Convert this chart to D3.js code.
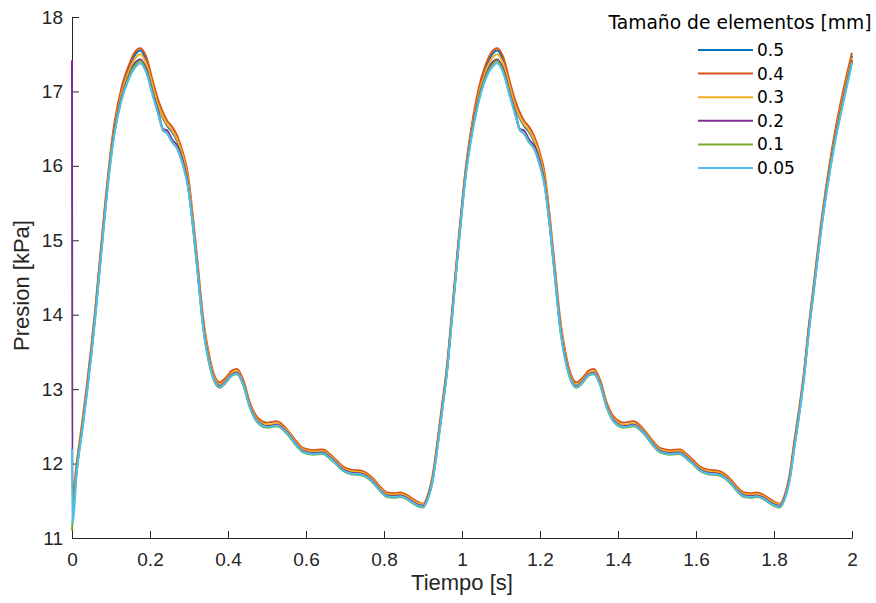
<!DOCTYPE html>
<html>
<head>
<meta charset="utf-8">
<script src="https://cdn.jsdelivr.net/npm/d3@7"></script>
<style>
  html, body { margin: 0; padding: 0; background: #ffffff; }
  svg { display: block; }
</style>
</head>
<body>
<svg id="chart" width="876" height="603"></svg>
<script>
// ---------- DATA ----------
const TIME = [0, 0.001, 0.013, 0.026, 0.038, 0.049, 0.059, 0.068, 0.077, 0.086, 0.096, 0.108, 0.127, 0.145,
  0.16, 0.175, 0.19, 0.208, 0.222, 0.233, 0.245, 0.256, 0.27, 0.285, 0.297,
  0.31, 0.323, 0.336, 0.354, 0.367, 0.379, 0.392, 0.41, 0.423, 0.44, 0.456, 0.47, 0.482, 0.5, 0.525, 0.551, 0.575, 0.592, 0.618, 0.644, 0.66, 0.679, 0.695, 0.713, 0.744, 0.772, 0.79, 0.808, 0.825, 0.841, 0.855, 0.867, 0.885, 0.9,
  0.912, 0.926, 0.936, 0.949, 0.962, 0.974, 0.99, 1.01, 1.025, 1.041, 1.06,
  1.075, 1.09, 1.105, 1.123, 1.137, 1.148, 1.16, 1.171, 1.185, 1.2, 1.212,
  1.225, 1.238, 1.251, 1.269, 1.282, 1.294, 1.307, 1.325, 1.338, 1.355, 1.371, 1.385, 1.397, 1.415, 1.44, 1.466, 1.49, 1.507, 1.533, 1.559, 1.575, 1.594, 1.61, 1.628, 1.659, 1.687, 1.705, 1.723, 1.74, 1.756, 1.77, 1.782, 1.8, 1.815,
  1.827, 1.841, 1.851, 1.864, 1.877, 1.889, 1.905, 1.92, 1.936, 1.956, 1.977, 2.0];

const P_05 = [11.45, 11.45, 12.0, 12.5, 13.0, 13.5, 14.0, 14.5, 15.0, 15.5, 16.0, 16.5, 17.0, 17.3,
  17.48, 17.55, 17.42, 17.06, 16.8, 16.64, 16.53, 16.46, 16.33, 16.1, 15.82,
  15.25, 14.58, 13.9, 13.35, 13.12, 13.05, 13.1, 13.21, 13.23, 13.07, 12.78, 12.62, 12.55, 12.51, 12.53, 12.43, 12.27, 12.18, 12.15, 12.16, 12.1, 12.01, 11.93, 11.89, 11.87, 11.77, 11.66, 11.58, 11.57, 11.58, 11.56, 11.52, 11.46, 11.44,
  11.55, 11.85, 12.22, 12.75, 13.3, 13.98, 14.9, 15.95, 16.5, 16.95, 17.3,
  17.48, 17.55, 17.42, 17.06, 16.8, 16.64, 16.53, 16.46, 16.33, 16.1, 15.82,
  15.25, 14.58, 13.9, 13.35, 13.12, 13.05, 13.1, 13.21, 13.23, 13.07, 12.78, 12.62, 12.55, 12.51, 12.53, 12.43, 12.27, 12.18, 12.15, 12.16, 12.1, 12.01, 11.93, 11.89, 11.87, 11.77, 11.66, 11.58, 11.57, 11.58, 11.56, 11.52, 11.46, 11.44,
  11.55, 11.85, 12.22, 12.68, 13.2, 13.8, 14.5, 15.15, 15.75, 16.4, 16.95, 17.48];

const P_04 = [11.6, 11.6, 12.05, 12.55, 13.05, 13.55, 14.05, 14.55, 15.05, 15.55, 16.05, 16.55, 17.05, 17.34,
  17.52, 17.58, 17.47, 17.12, 16.87, 16.72, 16.6, 16.53, 16.4, 16.17, 15.9,
  15.32, 14.65, 13.97, 13.4, 13.16, 13.09, 13.14, 13.25, 13.27, 13.11, 12.82, 12.66, 12.59, 12.55, 12.57, 12.46, 12.3, 12.21, 12.18, 12.19, 12.13, 12.04, 11.96, 11.92, 11.9, 11.8, 11.69, 11.61, 11.6, 11.61, 11.59, 11.55, 11.49, 11.46,
  11.57, 11.88, 12.26, 12.79, 13.34, 14.02, 14.94, 15.99, 16.54, 17.0, 17.35,
  17.52, 17.58, 17.47, 17.12, 16.87, 16.72, 16.6, 16.53, 16.4, 16.17, 15.9,
  15.32, 14.65, 13.97, 13.4, 13.16, 13.09, 13.14, 13.25, 13.27, 13.11, 12.82, 12.66, 12.59, 12.55, 12.57, 12.46, 12.3, 12.21, 12.18, 12.19, 12.13, 12.04, 11.96, 11.92, 11.9, 11.8, 11.69, 11.61, 11.6, 11.61, 11.59, 11.55, 11.49, 11.46,
  11.57, 11.88, 12.26, 12.72, 13.24, 13.84, 14.55, 15.2, 15.8, 16.45, 17.0, 17.52];

const P_03 = [11.45, 11.45, 12.0, 12.5, 13.0, 13.5, 14.0, 14.5, 15.0, 15.5, 16.0, 16.48, 16.97, 17.26,
  17.43, 17.5, 17.38, 17.05, 16.8, 16.66, 16.55, 16.48, 16.35, 16.12, 15.84,
  15.27, 14.6, 13.92, 13.36, 13.13, 13.06, 13.11, 13.22, 13.24, 13.08, 12.79, 12.63, 12.56, 12.52, 12.54, 12.44, 12.28, 12.19, 12.16, 12.17, 12.11, 12.02, 11.94, 11.9, 11.88, 11.78, 11.67, 11.59, 11.58, 11.59, 11.57, 11.53, 11.47, 11.45,
  11.55, 11.85, 12.22, 12.75, 13.3, 13.98, 14.9, 15.95, 16.48, 16.92, 17.26,
  17.43, 17.5, 17.38, 17.05, 16.8, 16.66, 16.55, 16.48, 16.35, 16.12, 15.84,
  15.27, 14.6, 13.92, 13.36, 13.13, 13.06, 13.11, 13.22, 13.24, 13.08, 12.79, 12.63, 12.56, 12.52, 12.54, 12.44, 12.28, 12.19, 12.16, 12.17, 12.11, 12.02, 11.94, 11.9, 11.88, 11.78, 11.67, 11.59, 11.58, 11.59, 11.57, 11.53, 11.47, 11.45,
  11.55, 11.85, 12.22, 12.68, 13.2, 13.8, 14.5, 15.15, 15.74, 16.38, 16.92, 17.45];

const P_02 = [17.42, 11.35, 11.97, 12.47, 12.97, 13.47, 13.97, 14.47, 14.97, 15.47, 15.97, 16.45, 16.92, 17.2,
  17.37, 17.43, 17.31, 16.97, 16.72, 16.5, 16.47, 16.36, 16.27, 16.05, 15.77,
  15.21, 14.54, 13.87, 13.32, 13.1, 13.04, 13.09, 13.2, 13.22, 13.06, 12.77, 12.61, 12.54, 12.5, 12.52, 12.42, 12.26, 12.17, 12.14, 12.15, 12.09, 12.0, 11.92, 11.88, 11.86, 11.76, 11.65, 11.57, 11.56, 11.57, 11.55, 11.51, 11.45, 11.43,
  11.54, 11.83, 12.2, 12.73, 13.28, 13.96, 14.88, 15.92, 16.45, 16.87, 17.2,
  17.37, 17.43, 17.31, 16.97, 16.72, 16.5, 16.47, 16.36, 16.27, 16.05, 15.77,
  15.21, 14.54, 13.87, 13.32, 13.1, 13.04, 13.09, 13.2, 13.22, 13.06, 12.77, 12.61, 12.54, 12.5, 12.52, 12.42, 12.26, 12.17, 12.14, 12.15, 12.09, 12.0, 11.92, 11.88, 11.86, 11.76, 11.65, 11.57, 11.56, 11.57, 11.55, 11.51, 11.45, 11.43,
  11.54, 11.83, 12.2, 12.66, 13.18, 13.78, 14.48, 15.13, 15.72, 16.35, 16.88, 17.42];

const P_01 = [11.1, 11.2, 11.95, 12.45, 12.95, 13.45, 13.95, 14.45, 14.95, 15.45, 15.95, 16.42, 16.9, 17.18,
  17.34, 17.41, 17.28, 16.94, 16.68, 16.48, 16.43, 16.32, 16.23, 16.0, 15.73,
  15.18, 14.51, 13.84, 13.29, 13.08, 13.02, 13.07, 13.18, 13.2, 13.04, 12.75, 12.59, 12.52, 12.48, 12.5, 12.4, 12.24, 12.15, 12.12, 12.13, 12.07, 11.98, 11.9, 11.86, 11.84, 11.74, 11.63, 11.55, 11.54, 11.55, 11.53, 11.49, 11.43, 11.41,
  11.52, 11.81, 12.18, 12.71, 13.26, 13.94, 14.86, 15.9, 16.42, 16.84, 17.18,
  17.34, 17.41, 17.28, 16.94, 16.68, 16.48, 16.43, 16.32, 16.23, 16.0, 15.73,
  15.18, 14.51, 13.84, 13.29, 13.08, 13.02, 13.07, 13.18, 13.2, 13.04, 12.75, 12.59, 12.52, 12.48, 12.5, 12.4, 12.24, 12.15, 12.12, 12.13, 12.07, 11.98, 11.9, 11.86, 11.84, 11.74, 11.63, 11.55, 11.54, 11.55, 11.53, 11.49, 11.43, 11.41,
  11.52, 11.81, 12.18, 12.64, 13.16, 13.76, 14.46, 15.11, 15.7, 16.33, 16.86, 17.4];

const P_005 = [12.2, 11.2, 11.92, 12.42, 12.92, 13.42, 13.92, 14.42, 14.92, 15.42, 15.92, 16.4, 16.88, 17.16,
  17.31, 17.38, 17.26, 16.93, 16.68, 16.49, 16.43, 16.33, 16.23, 16.0, 15.73,
  15.19, 14.52, 13.84, 13.3, 13.09, 13.03, 13.08, 13.19, 13.21, 13.05, 12.76, 12.6, 12.53, 12.49, 12.51, 12.41, 12.25, 12.16, 12.13, 12.14, 12.08, 11.99, 11.91, 11.87, 11.85, 11.75, 11.64, 11.56, 11.55, 11.56, 11.54, 11.5, 11.44, 11.42,
  11.52, 11.8, 12.16, 12.69, 13.24, 13.92, 14.84, 15.88, 16.4, 16.82, 17.16,
  17.31, 17.38, 17.26, 16.93, 16.68, 16.49, 16.43, 16.33, 16.23, 16.0, 15.73,
  15.19, 14.52, 13.84, 13.3, 13.09, 13.03, 13.08, 13.19, 13.21, 13.05, 12.76, 12.6, 12.53, 12.49, 12.51, 12.41, 12.25, 12.16, 12.13, 12.14, 12.08, 11.99, 11.91, 11.87, 11.85, 11.75, 11.64, 11.56, 11.55, 11.56, 11.54, 11.5, 11.44, 11.42,
  11.52, 11.8, 12.16, 12.62, 13.14, 13.74, 14.44, 15.09, 15.68, 16.3, 16.83, 17.38];

const SERIES_LABELS = ["0.5", "0.4", "0.3", "0.2", "0.1", "0.05"];
const SERIES_VALUES = [P_05, P_04, P_03, P_02, P_01, P_005];
const SERIES_COLORS = ["#0072BD", "#D95319", "#EDB120", "#7E2F8E", "#77AC30", "#4DBEEE"];
const X_TICKS = [0, 0.2, 0.4, 0.6, 0.8, 1, 1.2, 1.4, 1.6, 1.8, 2];
const Y_TICKS = [11, 12, 13, 14, 15, 16, 17, 18];
const X_LABEL = "Tiempo [s]";
const Y_LABEL = "Presion [kPa]";
const LEGEND_TITLE = "Tamaño de elementos [mm]";

// ---------- CHART ----------
(function () {
  const svg = d3.select("#chart");
  const axisColor = "#262626";
  const pl = 72, pr = 852, pt = 17, pb = 538;

  const x = d3.scaleLinear().domain([0, 2]).range([pl, pr]);
  const y = d3.scaleLinear().domain([11, 18]).range([pb, pt]);

  const xAxis = d3.axisBottom(x).tickValues(X_TICKS).tickSize(-7).tickSizeOuter(0).tickPadding(15)
    .tickFormat(d => String(d));
  const yAxis = d3.axisLeft(y).tickValues(Y_TICKS).tickSize(-7).tickSizeOuter(0).tickPadding(9)
    .tickFormat(d => String(d));

  const gx = svg.append("g").attr("transform", `translate(0,${pb})`).call(xAxis);
  const gy = svg.append("g").attr("transform", `translate(${pl},0)`).call(yAxis);
  [gx, gy].forEach(g => {
    g.select(".domain").attr("stroke", axisColor).attr("stroke-width", 1);
    g.selectAll(".tick line").attr("stroke", axisColor).attr("stroke-width", 1);
    g.selectAll(".tick text").attr("fill", axisColor)
      .style("font-family", "'Liberation Sans', Arial, sans-serif").style("font-size", "19px");
  });

  svg.append("text")
    .attr("x", (pl + pr) / 2).attr("y", 590)
    .attr("text-anchor", "middle").attr("fill", axisColor)
    .style("font-family", "'Liberation Sans', Arial, sans-serif").style("font-size", "22px")
    .text(X_LABEL);
  svg.append("text")
    .attr("transform", `translate(29,${(pt + pb) / 2 + 8}) rotate(-90)`)
    .attr("text-anchor", "middle").attr("fill", axisColor)
    .style("font-family", "'Liberation Sans', Arial, sans-serif").style("font-size", "22px")
    .text(Y_LABEL);

  const line = d3.line()
    .x(d => x(d[0]))
    .y(d => y(d[1]))
    .curve(d3.curveMonotoneX);

  SERIES_VALUES.forEach((vals, i) => {
    const pts = TIME.map((t, k) => [t, vals[k]]);
    svg.append("path")
      .datum(pts)
      .attr("d", line)
      .attr("fill", "none")
      .attr("stroke", SERIES_COLORS[i])
      .attr("stroke-width", 2)
      .attr("stroke-linejoin", "round");
  });

  const lg = svg.append("g");
  lg.append("text")
    .attr("x", 740).attr("y", 29)
    .attr("text-anchor", "middle").attr("fill", "#000")
    .style("font-family", "'DejaVu Sans', Verdana, sans-serif").style("font-size", "18.7px")
    .text(LEGEND_TITLE);
  SERIES_LABELS.forEach((lab, i) => {
    const yy = 50 + i * 23.6;
    lg.append("line")
      .attr("x1", 698).attr("x2", 753).attr("y1", yy).attr("y2", yy)
      .attr("stroke", SERIES_COLORS[i]).attr("stroke-width", 2);
    lg.append("text")
      .attr("x", 757).attr("y", yy + 6)
      .attr("fill", "#000")
      .style("font-family", "'DejaVu Sans', Verdana, sans-serif").style("font-size", "17px")
      .text(lab);
  });
})();
</script>
</body>
</html>
